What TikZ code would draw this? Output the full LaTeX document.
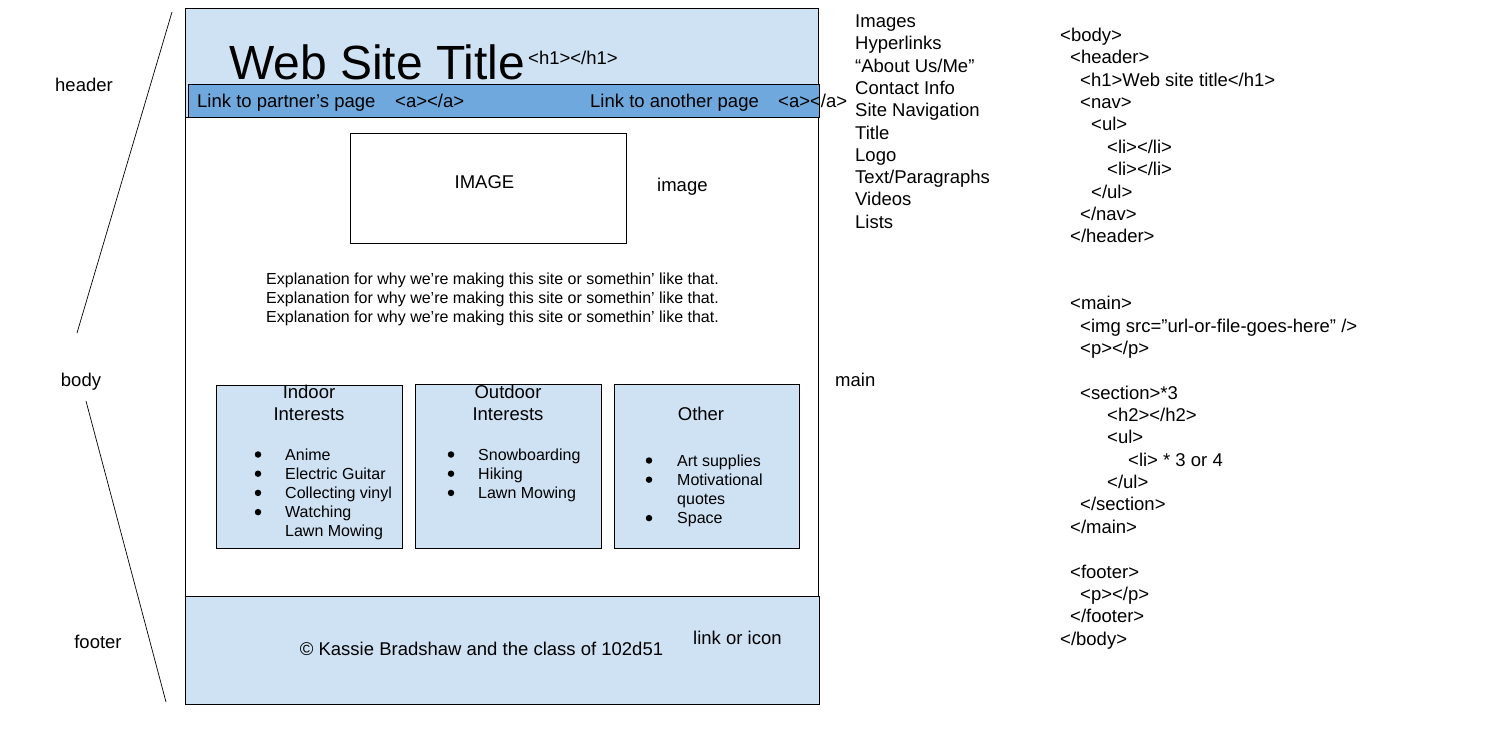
\documentclass[tikz,border=0pt]{standalone}
\usepackage{fontspec}
\setmainfont{Liberation Sans}
\definecolor{lblue}{HTML}{CFE2F3}
\definecolor{nblue}{HTML}{6FA8DC}
\begin{document}
\begin{tikzpicture}[x=1pt,y=-1pt,
  txt/.style={inner sep=0pt, anchor=base west, font=\fontsize{18.5}{22.3}\selectfont},
  ctxt/.style={inner sep=0pt, anchor=base, font=\fontsize{18.5}{22.3}\selectfont},
  sm/.style={inner sep=0pt, anchor=base west, font=\fontsize{16}{19}\selectfont},
  bul/.style={circle, fill=black, inner sep=0pt, minimum size=6.5pt},
  box/.style={draw=black, line width=0.9pt},
  thin/.style={draw=black, line width=0.7pt}]
\path[use as bounding box] (0,0) rectangle (1494,738);
% frames
\path[box, fill=lblue] (185,8) rectangle (818,117);
\path[box, fill=nblue] (188,84) rectangle (819,117);
\path[box] (185,117) rectangle (818,596);
\path[box, fill=lblue] (185,596) rectangle (819,704);
\path[box] (350,133) rectangle (626,243);
\path[box, fill=lblue] (216,385) rectangle (402,548);
\path[box, fill=lblue] (415,384) rectangle (601,548);
\path[box, fill=lblue] (614,384) rectangle (799,548);
% header
\node[inner sep=0pt, anchor=base west, font=\fontsize{48}{52}\selectfont] (title) at (229,79.5) {Web Site Title};
\node[txt] (h1tag) at (528,64.6) {<h1></h1>};
\node[txt] (nav1) at (197,107.6) {Link to partner’s page};
\node[txt] (nava1) at (395,107.6) {<a></a>};
\node[txt] (nav2) at (590,107.6) {Link to another page};
\node[txt] (nava2) at (778,107.6) {<a></a>};
% image
\node[ctxt] (imgtxt) at (484.5,188.6) {IMAGE};
\node[txt] (imglbl) at (657,191.6) {image};
% explanation
\node[sm] (ex1) at (266,284.7) {Explanation for why we’re making this site or somethin’ like that.};
\node[sm] (ex2) at (266,303.7) {Explanation for why we’re making this site or somethin’ like that.};
\node[sm] (ex3) at (266,322.7) {Explanation for why we’re making this site or somethin’ like that.};
% section 1
\node[ctxt] (s1a) at (309,398.6) {Indoor};
\node[ctxt] (s1b) at (309,420.6) {Interests};
\node[bul] (b11) at (258,454.5) {};
\node[sm] (i11) at (285,460) {Anime};
\node[bul] (b12) at (258,473.7) {};
\node[sm] (i12) at (285,479.2) {Electric Guitar};
\node[bul] (b13) at (258,492.9) {};
\node[sm] (i13) at (285,498.4) {Collecting vinyl};
\node[bul] (b14) at (258,512.1) {};
\node[sm] (i14) at (285,517.6) {Watching};
\node[sm] (i15) at (285,536.8) {Lawn Mowing};
% section 2
\node[ctxt] (s2a) at (508,398.6) {Outdoor};
\node[ctxt] (s2b) at (508,420.6) {Interests};
\node[bul] (b21) at (451,454.5) {};
\node[sm] (i21) at (478,460) {Snowboarding};
\node[bul] (b22) at (451,473.7) {};
\node[sm] (i22) at (478,479.2) {Hiking};
\node[bul] (b23) at (451,492.9) {};
\node[sm] (i23) at (478,498.4) {Lawn Mowing};
% section 3
\node[ctxt] (s3a) at (701,420.6) {Other};
\node[bul] (b31) at (649,460.5) {};
\node[sm] (i31) at (677,466) {Art supplies};
\node[bul] (b32) at (649,479.7) {};
\node[sm] (i32) at (677,485.2) {Motivational};
\node[sm] (i33) at (677,504.4) {quotes};
\node[bul] (b34) at (649,518.1) {};
\node[sm] (i34) at (677,523.6) {Space};
% footer
\node[ctxt] (copy) at (481.5,655.6) {© Kassie Bradshaw and the class of 102d51};
\node[txt] (link) at (693,644.6) {link or icon};
% left labels
\node[ctxt] (lhead) at (84,91.6) {header};
\node[ctxt] (lbody) at (81,386.6) {body};
\node[ctxt] (lfoot) at (98,648.6) {footer};
\node[txt] (lmain) at (835,386.6) {main};
\coordinate (l1a) at (172,12);
\coordinate (l1b) at (77,333);
\coordinate (l2a) at (86,401);
\coordinate (l2b) at (166,702);
\draw[thin] (l1a) -- (l1b);
\draw[thin] (l2a) -- (l2b);
% element list
\node[txt] (e1) at (855,27.6) {Images};
\node[txt] (e2) at (855,49.9) {Hyperlinks};
\node[txt] (e3) at (855,72.2) {“About Us/Me”};
\node[txt] (e4) at (855,94.5) {Contact Info};
\node[txt] (e5) at (855,116.8) {Site Navigation};
\node[txt] (e6) at (855,139.1) {Title};
\node[txt] (e7) at (855,161.4) {Logo};
\node[txt] (e8) at (855,183.7) {Text/Paragraphs};
\node[txt] (e9) at (855,206.0) {Videos};
\node[txt] (e10) at (855,228.3) {Lists};
% code
\node[txt] (c0) at (1060,41.6) {<body>};
\node[txt] (c1) at (1070,63.95) {<header>};
\node[txt] (c2) at (1080,86.3) {<h1>Web site title</h1>};
\node[txt] (c3) at (1080,108.65) {<nav>};
\node[txt] (c4) at (1091,131.0) {<ul>};
\node[txt] (c5) at (1107,153.35) {<li></li>};
\node[txt] (c6) at (1107,175.7) {<li></li>};
\node[txt] (c7) at (1091,198.05) {</ul>};
\node[txt] (c8) at (1080,220.4) {</nav>};
\node[txt] (c9) at (1070,242.75) {</header>};
\node[txt] (c12) at (1070,309.8) {<main>};
\node[txt] (c13) at (1080,332.15) {<img src=”url-or-file-goes-here” />};
\node[txt] (c14) at (1080,354.5) {<p></p>};
\node[txt] (c16) at (1080,399.2) {<section>*3};
\node[txt] (c17) at (1107,421.55) {<h2></h2>};
\node[txt] (c18) at (1107,443.9) {<ul>};
\node[txt] (c19) at (1128,466.25) {<li> * 3 or 4};
\node[txt] (c20) at (1107,488.6) {</ul>};
\node[txt] (c21) at (1080,510.95) {</section>};
\node[txt] (c22) at (1070,533.3) {</main>};
\node[txt] (c24) at (1070,578.0) {<footer>};
\node[txt] (c25) at (1080,600.35) {<p></p>};
\node[txt] (c26) at (1070,622.7) {</footer>};
\node[txt] (c27) at (1060,645.05) {</body>};
\end{tikzpicture}
\end{document}
